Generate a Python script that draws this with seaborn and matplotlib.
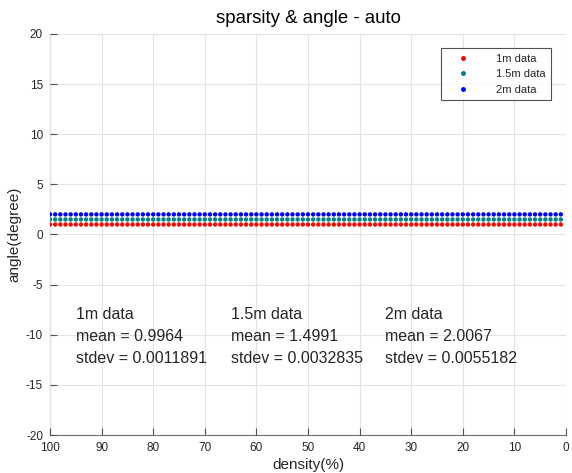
import numpy as np
import pandas as pd
import matplotlib
matplotlib.use("Agg")
import matplotlib.pyplot as plt
import seaborn as sns

# density sweep (percent) and measured angles per mounting height
density = list(range(100, 0, -1))
series_names = ["1m data", "1.5m data", "2m data"]
series_means = [0.9964, 1.4991, 2.0067]
series_stdev = ["0.0011891", "0.0032835", "0.0055182"]
series_colors = ["#ff0000", "#008080", "#0000ff"]
angle_1m = [0.9964] * len(density)
angle_15m = [1.4991] * len(density)
angle_2m = [2.0067] * len(density)

x_ticks = list(range(0, 101, 10))
y_ticks = list(range(-20, 21, 5))
label_x = [95, 65, 35]

df = pd.concat([
    pd.DataFrame({"density": density, "angle": vals, "set": name})
    for name, vals in zip(series_names, [angle_1m, angle_15m, angle_2m])
])

sns.set_style("white")
plt.rcParams["font.family"] = ["Liberation Sans", "DejaVu Sans"]
plt.rcParams["axes.unicode_minus"] = False

fig = plt.figure(figsize=(5.72, 4.73), dpi=100)
ax = fig.add_axes([50 / 572, 1 - 435 / 473, 516 / 572, 401 / 473])

sns.scatterplot(data=df, x="density", y="angle", hue="set",
                palette=dict(zip(series_names, series_colors)),
                s=10, linewidth=0, ax=ax, legend=False, zorder=3)

ax.set_xlim(100, 0)
ax.set_ylim(-20, 20)
ax.set_xticks(x_ticks)
ax.set_yticks(y_ticks)
ax.grid(True, color="#e3e3e3", linewidth=0.8, zorder=0)
ax.set_axisbelow(False)
for side in ["top", "right"]:
    ax.spines[side].set_visible(False)
for side in ["left", "bottom"]:
    ax.spines[side].set_color("#707070")
    ax.spines[side].set_linewidth(0.8)
ax.tick_params(bottom=True, left=True, direction="in", length=5, width=0.8,
               color="#505050", labelsize=8.5, labelcolor="#262626")
ax.tick_params(axis="x", pad=5)
ax.tick_params(axis="y", pad=5)

ax.set_xlabel("density(%)", fontsize=11, color="#262626", labelpad=3)
ax.set_ylabel("angle(degree)", fontsize=11, color="#262626", labelpad=3)
ax.set_title("sparsity & angle - auto", fontsize=13.4, color="#000000", pad=8)

for name, m, sd, c, lx in zip(series_names, series_means, series_stdev,
                              series_colors, label_x):
    ax.text(lx, -8, name, fontsize=11.5, va="center", ha="left")
    ax.text(lx, -10.2, f"mean = {m:.4f}", fontsize=11.5, va="center", ha="left")
    ax.text(lx, -12.4, f"stdev = {sd}", fontsize=11.5, va="center", ha="left")
    ax.plot([], [], linestyle="none", marker="o", markersize=2.5,
            color=c, label=name)

leg = ax.legend(loc="upper right", bbox_to_anchor=(0.975, 0.97),
                fontsize=8, frameon=True, fancybox=False,
                handlelength=3.0, handletextpad=1.4, borderpad=0.5,
                labelspacing=0.5, borderaxespad=0.2)
leg.get_frame().set_edgecolor("#262626")
leg.get_frame().set_linewidth(0.8)
leg.set_zorder(5)

fig.savefig("out.png", dpi=100)
